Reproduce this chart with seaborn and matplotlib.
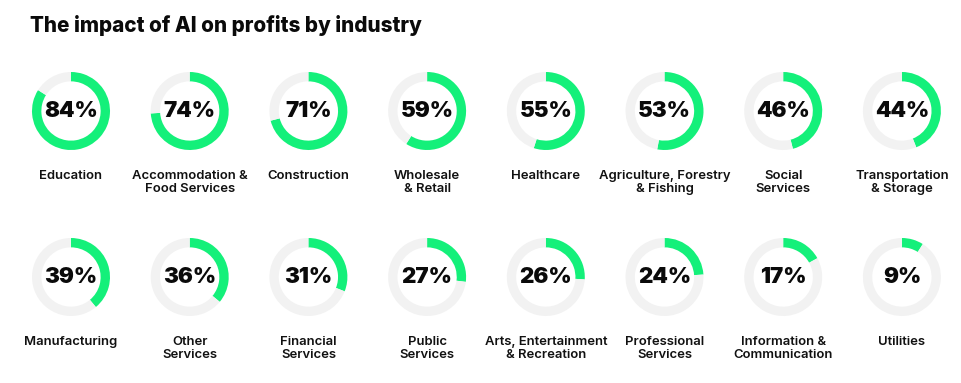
import matplotlib
matplotlib.use("Agg")
import matplotlib.pyplot as plt
import seaborn as sns

sns.set_theme(style="white")
plt.rcParams['font.family'] = ['Inter', 'DejaVu Sans']

industries = [
    "Education", "Accommodation &\nFood Services", "Construction", "Wholesale\n& Retail",
    "Healthcare", "Agriculture, Forestry\n& Fishing", "Social\nServices", "Transportation\n& Storage",
    "Manufacturing", "Other\nServices", "Financial\nServices", "Public\nServices",
    "Arts, Entertainment\n& Recreation", "Professional\nServices", "Information &\nCommunication", "Utilities",
]
impact_pct = [84, 74, 71, 59, 55, 53, 46, 44, 39, 36, 31, 27, 26, 24, 17, 9]

GREEN = "#14F07A"
TRACK = "#F2F2F2"

W, H = 962, 383
fig = plt.figure(figsize=(W / 100, H / 100), dpi=100)
fig.patch.set_facecolor("white")

fig.text(30 / W, 1 - 26 / H, "The impact of AI on profits by industry",
         fontsize=14.9, fontweight="heavy", color="#0A0A0A", ha="left", va="center")

r_px = 39
x0, dx = 71, 118.7
row_y = [111, 277]

for i, (name, pct) in enumerate(zip(industries, impact_pct)):
    row, col = divmod(i, 8)
    cx, cy = x0 + col * dx, row_y[row]
    ax = fig.add_axes([(cx - r_px) / W, 1 - (cy + r_px) / H, 2 * r_px / W, 2 * r_px / H])
    ax.pie([pct, 100 - pct], colors=[GREEN, TRACK], startangle=90, counterclock=False,
           radius=1, wedgeprops=dict(width=0.24, edgecolor="none"))
    ax.set_xlim(-1, 1)
    ax.set_ylim(-1, 1)
    ax.set_aspect("equal")
    ax.axis("off")
    ax.text(0, 0, f"{pct}%", ha="center", va="center", fontsize=16,
            fontweight="black", color="#0A0A0A")
    ax.text(0, -1.52, name, ha="center", va="top", fontsize=9.4, fontweight="semibold",
            color="#111111", linespacing=1.05, clip_on=False)

fig.savefig("out.png", dpi=100, facecolor="white")
